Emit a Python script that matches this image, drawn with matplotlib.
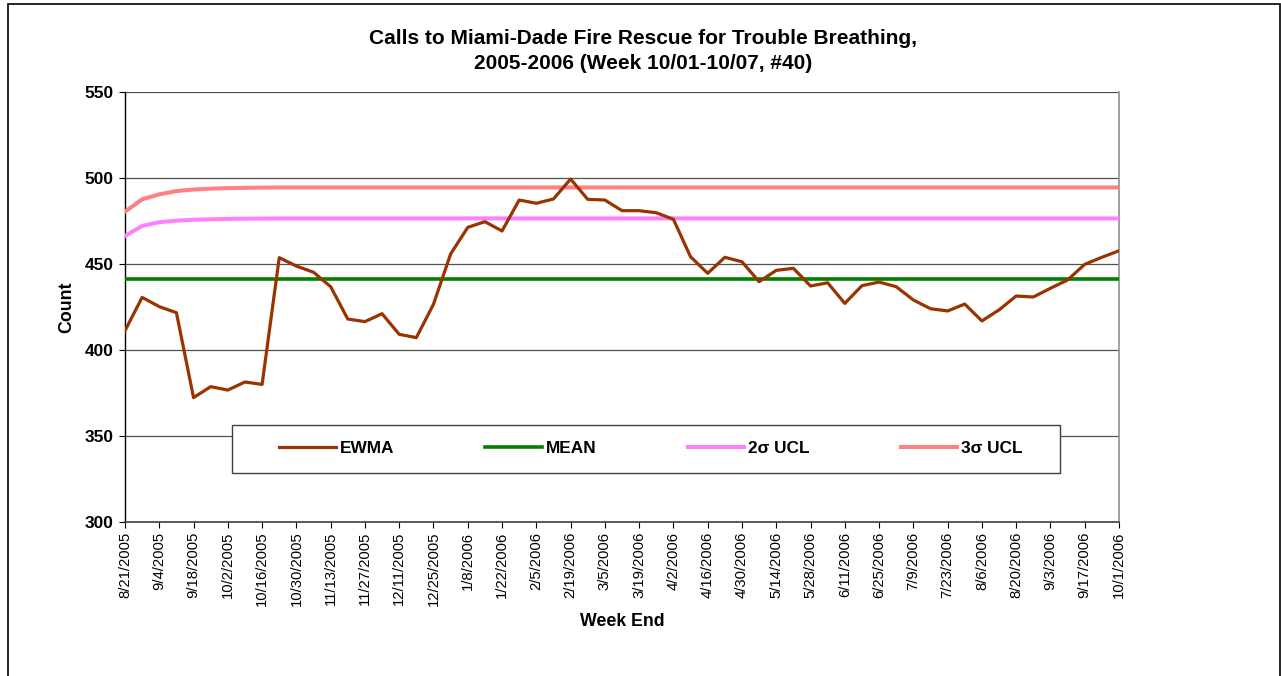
import matplotlib
matplotlib.use("Agg")
import matplotlib.pyplot as plt
from matplotlib.patches import Rectangle

plt.rcParams['font.family'] = ['Liberation Sans', 'DejaVu Sans']

# tydzien konczacy sie (kategorie osi x)
week_end = [
    "8/21/2005", "8/28/2005", "9/4/2005", "9/11/2005", "9/18/2005", "9/25/2005",
    "10/2/2005", "10/9/2005", "10/16/2005", "10/23/2005", "10/30/2005", "11/6/2005",
    "11/13/2005", "11/20/2005", "11/27/2005", "12/4/2005", "12/11/2005", "12/18/2005",
    "12/25/2005", "1/1/2006", "1/8/2006", "1/15/2006", "1/22/2006", "1/29/2006",
    "2/5/2006", "2/12/2006", "2/19/2006", "2/26/2006", "3/5/2006", "3/12/2006",
    "3/19/2006", "3/26/2006", "4/2/2006", "4/9/2006", "4/16/2006", "4/23/2006",
    "4/30/2006", "5/7/2006", "5/14/2006", "5/21/2006", "5/28/2006", "6/4/2006",
    "6/11/2006", "6/18/2006", "6/25/2006", "7/2/2006", "7/9/2006", "7/16/2006",
    "7/23/2006", "7/30/2006", "8/6/2006", "8/13/2006", "8/20/2006", "8/27/2006",
    "9/3/2006", "9/10/2006", "9/17/2006", "9/24/2006", "10/1/2006",
]

ewma = [
    411.2, 430.6, 425.2, 421.7, 372.3, 378.7, 376.7, 381.4, 380.0, 453.7,
    448.8, 445.2, 436.8, 418.0, 416.5, 421.1, 409.1, 407.2, 426.6, 455.8,
    471.3, 474.6, 469.2, 487.2, 485.3, 487.8, 499.4, 487.6, 487.2, 481.0,
    481.0, 479.8, 476.0, 454.2, 444.6, 453.9, 451.3, 439.7, 446.3, 447.5,
    437.2, 439.1, 427.1, 437.4, 439.5, 436.8, 429.1, 424.0, 422.7, 426.7,
    416.9, 423.3, 431.4, 430.8, 435.9, 440.7, 449.8, 453.9, 457.7,
]

mean = [441.3] * 59

ucl_2sigma = [466.3, 472.1, 474.3, 475.2, 475.7, 476.0, 476.2, 476.3, 476.4, 476.5] + [476.5] * 49
ucl_3sigma = [480.4, 487.6, 490.5, 492.4, 493.3, 493.8, 494.1, 494.3, 494.4, 494.5] + [494.5] * 49

x = list(range(len(week_end)))

fig = plt.figure(figsize=(12.81, 6.76), dpi=100)
ax = fig.add_axes([125 / 1281, 1 - 522 / 676, 994 / 1281, 430 / 676])

ax.plot(x, ewma, color='#993300', lw=2.3, label='EWMA', zorder=5)
ax.plot(x, mean, color='#008000', lw=2.6, label='MEAN', zorder=4)
ax.plot(x, ucl_2sigma, color='#FF80FF', lw=2.9, label='2σ UCL', zorder=3)
ax.plot(x, ucl_3sigma, color='#FF8080', lw=2.9, label='3σ UCL', zorder=3)

ax.set_xlim(0, len(week_end) - 1)
ax.set_ylim(300, 550)
ax.set_yticks([300, 350, 400, 450, 500, 550])
ax.set_xticks(x[::2])
ax.set_xticklabels(week_end[::2], rotation=90, fontsize=10.7)
for lab in ax.get_yticklabels():
    lab.set_fontweight('bold')
    lab.set_fontsize(12.4)
ax.tick_params(axis='y', direction='out', length=4, width=0.8, pad=4)
ax.tick_params(axis='x', direction='out', length=4, width=0.8, pad=3)

ax.grid(axis='y', color='#505050', lw=0.9)
ax.set_axisbelow(True)
ax.spines['top'].set_visible(False)
ax.spines['right'].set_color('#909090')
ax.spines['right'].set_linewidth(1.2)
ax.spines['left'].set_linewidth(1.0)
ax.spines['bottom'].set_color('#404040')
ax.spines['bottom'].set_linewidth(1.2)

ax.set_ylabel('Count', fontsize=12.8, fontweight='bold', labelpad=7)
ax.set_xlabel('Week End', fontsize=12.8, fontweight='bold', labelpad=5)

# ramka legendy (jak w Excelu)
ax.add_patch(Rectangle((0.1076, 0.114), 0.833, 0.1116, transform=ax.transAxes,
                       facecolor='white', edgecolor='#404040', lw=1.0, zorder=6))
leg = ax.legend(loc='center', ncol=4, bbox_to_anchor=(0.529, 0.170),
                prop={'weight': 'bold', 'size': 12.4},
                handlelength=3.3, handletextpad=0.2, columnspacing=5.3,
                frameon=False)
leg.set_zorder(7)

fig.text(0.502, 0.9245, "Calls to Miami-Dade Fire Rescue for Trouble Breathing,\n2005-2006 (Week 10/01-10/07, #40)",
         ha='center', va='center', fontsize=15, fontweight='bold', linespacing=1.42)

fig.patches.append(Rectangle((8 / 1281, -0.05), 1272 / 1281, 1.05 - 4 / 676,
                             transform=fig.transFigure, fill=False,
                             edgecolor='black', lw=1.2))

fig.savefig('out.png', dpi=100)
